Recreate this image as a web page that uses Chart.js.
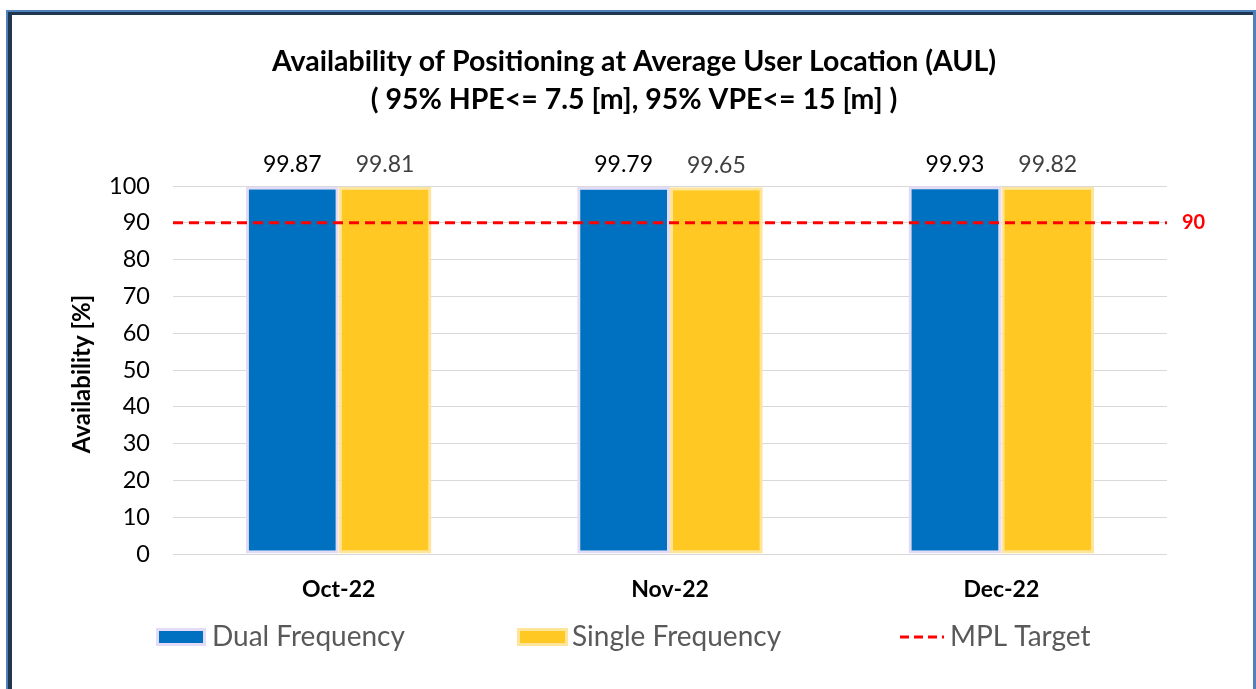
<!DOCTYPE html>
<html>
<head>
<meta charset="utf-8">
<script src="https://cdn.jsdelivr.net/npm/chart.js@4/dist/chart.umd.min.js"></script>
<style>
  html, body { margin: 0; padding: 0; background: #fff; overflow: hidden; }
  #wrap { position: relative; width: 1256px; height: 689px; }
  #chart { position: absolute; left: 0; top: 0; }
  #frame { position: absolute; left: 6px; top: 10px; width: 1250px; height: 700px; box-sizing: border-box;
           border-top: 2px solid #4f81bd; border-left: 2px solid #4f81bd; border-right: 3px solid #4f81bd; pointer-events: none; }
  #frameInner { position: absolute; left: 0; top: 0; right: 0; bottom: 0;
                border-top: 3px solid #1f3550; border-left: 4px solid #1f3550; }
</style>
</head>
<body>
<div id="wrap">
  <canvas id="chart" width="1256" height="689"></canvas>
  <div id="frame"><div id="frameInner"></div></div>
</div>
<script>
const categories = ['Oct-22', 'Nov-22', 'Dec-22'];
const dualFrequency = [99.87, 99.79, 99.93];
const singleFrequency = [99.81, 99.65, 99.82];
const mplTarget = 90;
const yMin = 0, yMax = 100, yStep = 10;

const titleLines = [
  'Availability of Positioning at Average User Location (AUL)',
  '( 95% HPE<= 7.5 [m], 95% VPE<= 15 [m] )',
];
const yTitle = 'Availability [%]';
const legendLabels = ['Dual Frequency', 'Single Frequency', 'MPL Target'];

const FONT = 'Lato, "Open Sans", sans-serif';
const BLUE = '#0070c0', BLUE_EDGE = '#e4dcf6';
const GOLD = '#ffc823', GOLD_EDGE = '#ffe59a';
const RED = '#ff0000';

// dashed target line across the plot, placed with the y scale
const targetLine = {
  id: 'targetLine',
  afterDatasetsDraw(chart) {
    const ctx = chart.ctx;
    const area = chart.chartArea;
    const y = chart.scales.y.getPixelForValue(mplTarget);
    ctx.save();
    ctx.strokeStyle = RED;
    ctx.lineWidth = 3;
    ctx.setLineDash([10, 6]);
    ctx.beginPath();
    ctx.moveTo(area.left, y);
    ctx.lineTo(area.right, y);
    ctx.stroke();
    ctx.restore();
  },
};

// title, value labels, target label, y title and legend
const decorations = {
  id: 'decorations',
  afterDraw(chart) {
    const ctx = chart.ctx;
    const area = chart.chartArea;
    ctx.save();

    // title
    ctx.fillStyle = '#000';
    ctx.textAlign = 'center';
    ctx.textBaseline = 'middle';
    ctx.font = 'bold 28.5px ' + FONT;
    ctx.fillText(titleLines[0], 634, 62);
    ctx.fillText(titleLines[1], 634, 100);

    // value labels above bars
    ctx.font = '23px ' + FONT;
    [0, 1].forEach((di) => {
      const meta = chart.getDatasetMeta(di);
      ctx.fillStyle = di === 0 ? '#000' : '#404040';
      meta.data.forEach((bar, i) => {
        const v = chart.data.datasets[di].data[i];
        ctx.fillText(v.toFixed(2), bar.x, bar.y - 22);
      });
    });

    // target label at the right end of the line
    const yT = chart.scales.y.getPixelForValue(mplTarget);
    ctx.fillStyle = RED;
    ctx.textAlign = 'left';
    ctx.font = 'bold 20px ' + FONT;
    ctx.fillText(String(mplTarget), area.right + 15, yT);

    // y axis title
    ctx.save();
    ctx.translate(82, (area.top + area.bottom) / 2 + 4);
    ctx.rotate(-Math.PI / 2);
    ctx.textAlign = 'center';
    ctx.fillStyle = '#000';
    ctx.font = 'bold 24px ' + FONT;
    ctx.fillText(yTitle, 0, 0);
    ctx.restore();

    // legend
    const ly = 637;
    ctx.fillStyle = BLUE_EDGE;
    ctx.fillRect(156, ly - 9, 50, 18);
    ctx.fillStyle = BLUE;
    ctx.fillRect(159, ly - 6, 44, 12);
    ctx.fillStyle = GOLD_EDGE;
    ctx.fillRect(517, ly - 9, 51, 18);
    ctx.fillStyle = GOLD;
    ctx.fillRect(520, ly - 6, 45, 12);

    ctx.strokeStyle = RED;
    ctx.lineWidth = 3;
    ctx.setLineDash([9, 5]);
    ctx.beginPath();
    ctx.moveTo(900, ly);
    ctx.lineTo(944, ly);
    ctx.stroke();
    ctx.setLineDash([]);

    ctx.font = '28px ' + FONT;
    ctx.fillStyle = '#595959';
    ctx.fillText(legendLabels[0], 212, ly);
    ctx.fillText(legendLabels[1], 572, ly);
    ctx.fillText(legendLabels[2], 950, ly);

    ctx.restore();
  },
};

const whiteBg = {
  id: 'whiteBg',
  beforeDraw(chart) {
    const ctx = chart.ctx;
    ctx.save();
    ctx.fillStyle = '#fff';
    ctx.fillRect(0, 0, chart.width, chart.height);
    ctx.restore();
  },
};

new Chart(document.getElementById('chart'), {
  type: 'bar',
  data: {
    labels: categories,
    datasets: [
      {
        label: legendLabels[0],
        data: dualFrequency,
        backgroundColor: BLUE,
        borderColor: BLUE_EDGE,
        borderWidth: 3,
        borderSkipped: false,
        categoryPercentage: 0.56,
        barPercentage: 1.0,
      },
      {
        label: legendLabels[1],
        data: singleFrequency,
        backgroundColor: GOLD,
        borderColor: GOLD_EDGE,
        borderWidth: 3,
        borderSkipped: false,
        categoryPercentage: 0.56,
        barPercentage: 1.0,
      },
    ],
  },
  options: {
    responsive: false,
    animation: false,
    devicePixelRatio: 1,
    layout: { padding: { left: 0, top: 186, right: 89, bottom: 75 } },
    plugins: {
      legend: { display: false },
      title: { display: false },
      tooltip: { enabled: false },
    },
    scales: {
      x: {
        grid: { display: false },
        border: { display: false },
        ticks: { color: '#000', font: { family: FONT, size: 23, weight: 'bold' }, padding: 14 },
        afterFit: (s) => { s.height = 60; },
      },
      y: {
        min: yMin,
        max: yMax,
        ticks: { stepSize: yStep, color: '#000', font: { family: FONT, size: 23.5 }, padding: 23 },
        grid: { color: '#d9d9d9', lineWidth: 1, drawTicks: false },
        border: { display: false },
        afterFit: (s) => { s.width = 173; },
      },
    },
  },
  plugins: [whiteBg, targetLine, decorations],
});
</script>
</body>
</html>
